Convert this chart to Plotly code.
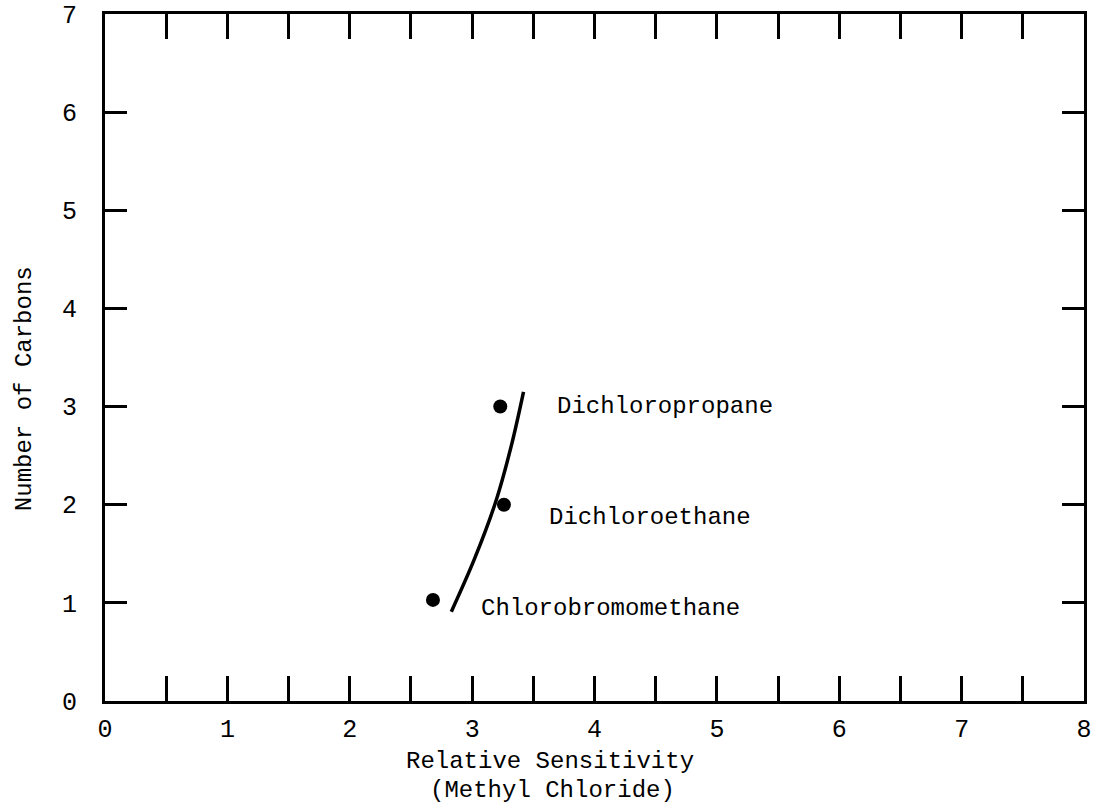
import plotly.graph_objects as go

# Data
compounds = ["Chlorobromomethane", "Dichloroethane", "Dichloropropane"]
sensitivity = [2.68, 3.26, 3.23]
carbons = [1.03, 2.0, 3.0]

curve_x = [2.83, 3.02, 3.19, 3.32, 3.42]
curve_y = [0.91, 1.45, 2.02, 2.60, 3.15]

label_x = [3.06, 3.61, 3.68]
label_y = [0.94, 1.87, 3.0]

x_tickvals = [i * 0.5 for i in range(17)]
x_ticktext = [str(int(v)) if v == int(v) else "" for v in x_tickvals]
y_tickvals = list(range(8))
y_ticktext = [str(v) for v in y_tickvals]

FONT = "Liberation Mono, DejaVu Sans Mono, monospace"

fig = go.Figure()
fig.add_trace(go.Scatter(x=curve_x, y=curve_y, mode="lines",
                         line=dict(color="black", width=3.5, shape="spline", smoothing=1.0),
                         showlegend=False, hoverinfo="skip"))
fig.add_trace(go.Scatter(x=sensitivity, y=carbons, mode="markers",
                         marker=dict(color="black", size=14),
                         showlegend=False, text=compounds))

for name, lx, ly in zip(compounds, label_x, label_y):
    fig.add_annotation(x=lx, y=ly, text=name, showarrow=False,
                       xanchor="left", yanchor="middle",
                       font=dict(family=FONT, size=24, color="black"))

fig.add_annotation(xref="paper", yref="paper", x=0.455, y=-0.088,
                   text="Relative Sensitivity", showarrow=False,
                   xanchor="center", yanchor="middle",
                   font=dict(family=FONT, size=24, color="black"))
fig.add_annotation(xref="paper", yref="paper", x=0.457, y=-0.130,
                   text="(Methyl Chloride)", showarrow=False,
                   xanchor="center", yanchor="middle",
                   font=dict(family=FONT, size=24, color="black"))
fig.add_annotation(xref="paper", yref="paper", x=-0.082, y=0.455,
                   text="Number of Carbons", showarrow=False, textangle=-90,
                   xanchor="center", yanchor="middle",
                   font=dict(family=FONT, size=24, color="black"))

fig.update_xaxes(range=[0, 8], tickvals=x_tickvals, ticktext=x_ticktext,
                 ticks="inside", ticklen=25, tickwidth=3, tickcolor="black",
                 showline=True, linewidth=3, linecolor="black", mirror="ticks",
                 showgrid=False, zeroline=False, automargin=False,
                 ticklabelstandoff=3,
                 tickfont=dict(family=FONT, size=25, color="black"))
fig.update_yaxes(range=[0, 7], tickvals=y_tickvals, ticktext=y_ticktext,
                 ticks="inside", ticklen=22, tickwidth=3, tickcolor="black",
                 showline=True, linewidth=3, linecolor="black", mirror="ticks",
                 showgrid=False, zeroline=False, automargin=False,
                 ticklabelstandoff=20,
                 tickfont=dict(family=FONT, size=25, color="black"))

fig.update_layout(width=1093, height=811,
                  margin=dict(l=105, r=9, t=14, b=110),
                  plot_bgcolor="white", paper_bgcolor="white")

fig.write_html("out.html", config={"displayModeBar": False},
               post_script="document.body.style.margin='0px';document.body.style.overflow='hidden';")
